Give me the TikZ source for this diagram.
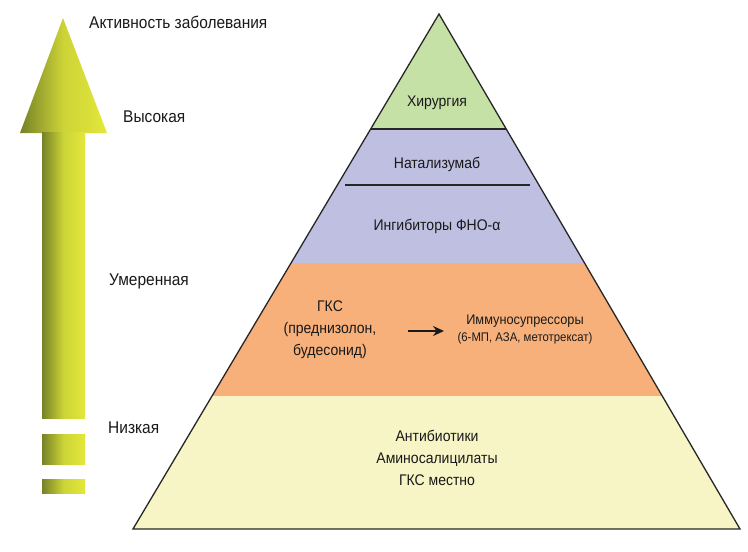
\documentclass[tikz,border=0pt]{standalone}
\usepackage{fontspec}
\setmainfont[FakeStretch=0.91]{Liberation Sans}
\usetikzlibrary{arrows.meta}
\definecolor{surg}{RGB}{198,225,166}
\definecolor{bio}{RGB}{190,191,225}
\definecolor{gks}{RGB}{248,176,122}
\definecolor{base}{RGB}{247,245,198}
\definecolor{olive}{RGB}{118,130,40}
\definecolor{lime}{RGB}{226,232,58}
\begin{document}
\begin{tikzpicture}[x=1pt,y=-1pt,
  lbl/.style={font=\fontsize{17}{20}\selectfont, inner sep=0pt, text=black!90},
  ptxt/.style={font=\fontsize{15.4}{22}\selectfont, inner sep=0pt, align=center, text=black!90},
  small/.style={font=\fontsize{12.5}{14}\selectfont, inner sep=0pt, text=black!90},
  grad/.style={left color=olive, right color=lime, middle color=lime!80!olive}]
\useasboundingbox (0,0) rectangle (748,552);
% gradient arrow
\shade[grad] (20,133) -- (63,18) -- (107,133) -- cycle;
\shade[grad] (42,132) rectangle (85,418);
\shade[grad] (42,434) rectangle (85,464);
\shade[grad] (42,479) rectangle (85,493);
% pyramid corners
\coordinate (apex) at (439,14);
\coordinate (bl) at (133,529);
\coordinate (br) at (740,529);
\coordinate (l1) at (370.7,129); \coordinate (r1) at (506,129);
\coordinate (l2) at (291,263);   \coordinate (r2) at (584.5,263);
\coordinate (l3) at (212,396);   \coordinate (r3) at (662,396);
\fill[surg] (apex) -- (r1) -- (l1) -- cycle;
\fill[bio] (l1) -- (r1) -- (r2) -- (l2) -- cycle;
\fill[gks] (l2) -- (r2) -- (r3) -- (l3) -- cycle;
\fill[base] (l3) -- (r3) -- (br) -- (bl) -- cycle;
\draw[line width=1.1pt, black!85] (l1) -- (r1);
\coordinate (n1) at (345,185); \coordinate (n2) at (530,185);
\draw[line width=1.1pt, black!85] (n1) -- (n2);
\draw[line width=1.3pt, black!85, line join=miter] (apex) -- (br) -- (bl) -- cycle;
% side labels
\node[lbl, anchor=west] (act) at (89,22) {Активность заболевания};
\node[lbl, anchor=west] (high) at (123,117) {Высокая};
\node[lbl, anchor=west] (mid) at (109,281) {Умеренная};
\node[lbl, anchor=west] (low) at (108,428) {Низкая};
% pyramid texts
\node[ptxt] (surgery) at (437,103) {Хирургия};
\node[ptxt] (nat) at (437,164) {Натализумаб};
\node[ptxt] (tnf) at (437,226) {Ингибиторы ФНО-α};
\node[ptxt] (gksn) at (330,330) {ГКС\\(преднизолон,\\будесонид)};
\node[small, font=\fontsize{14}{16}\selectfont] (imm) at (525,321) {Иммуносупрессоры};
\node[small] (immd) at (525,338) {(6-МП, АЗА, метотрексат)};
\coordinate (a1) at (408,331); \coordinate (a2) at (444,331);
\draw[line width=1.6pt, black!90, -{Stealth[length=11pt,width=10pt]}] (a1) -- (a2);
\node[ptxt] (basetxt) at (437,458) {Антибиотики\\Аминосалицилаты\\ГКС местно};
\end{tikzpicture}
\end{document}
